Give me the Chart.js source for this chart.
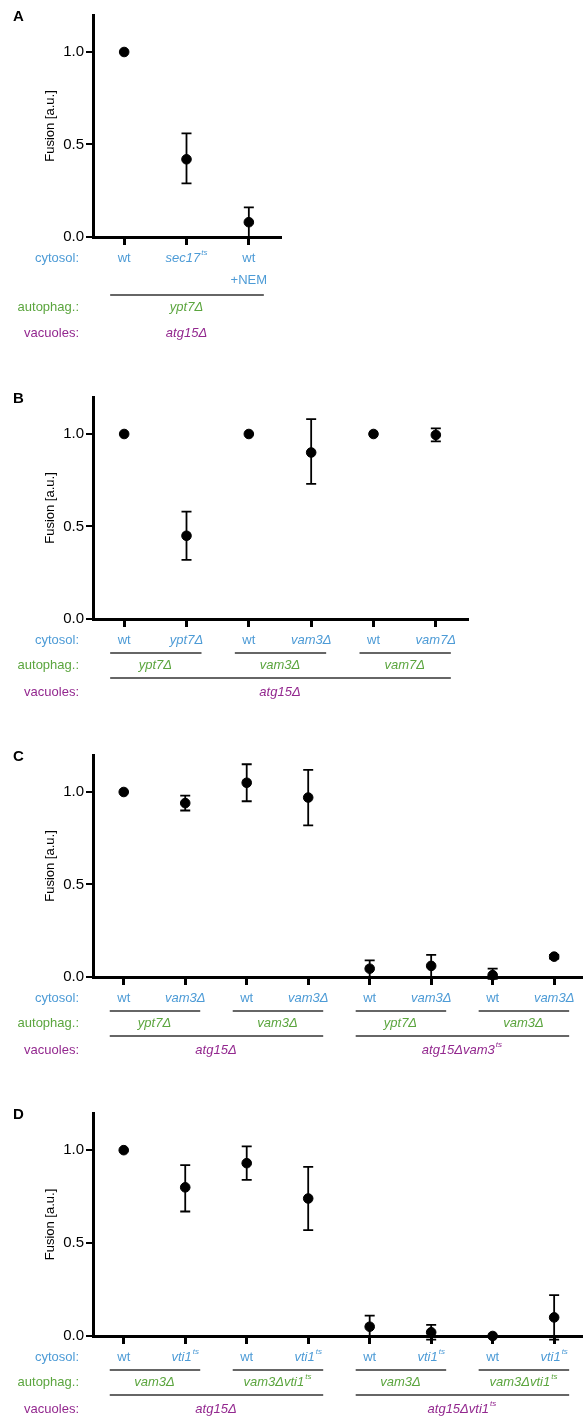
<!DOCTYPE html>
<html>
<head>
<meta charset="utf-8">
<script src="https://cdn.jsdelivr.net/npm/chart.js@4.4.0/dist/chart.umd.min.js"></script>
<style>
  body { margin: 0; background: #fff; }
  #page { position: relative; width: 587px; height: 1418px; }
  canvas { position: absolute; left: 0; }
</style>
</head>
<body>
<div id="page">
  <canvas id="chartA" width="587" height="350" style="top:0px"></canvas>
  <canvas id="chartB" width="587" height="355" style="top:350px"></canvas>
  <canvas id="chartC" width="587" height="357" style="top:705px"></canvas>
  <canvas id="chartD" width="587" height="356" style="top:1062px"></canvas>
</div>
<script>
// tick values on the Fusion axis
const yTicks = [0, 0.5, 1.0];

// Panel A
const cytosolA = ['wt', 'sec17^ts', 'wt\n+NEM'];
const fusionA = [1.0, 0.42, 0.08];
const lowA = [null, 0.29, 0.0];
const highA = [null, 0.56, 0.16];
const autophagA = ['ypt7Δ'];
const autophagSpanA = [[0, 2]];
const vacuolesA = ['atg15Δ'];
const vacuolesSpanA = [[0, 2]];

// Panel B
const cytosolB = ['wt', 'ypt7Δ', 'wt', 'vam3Δ', 'wt', 'vam7Δ'];
const fusionB = [1.0, 0.45, 1.0, 0.90, 1.0, 0.995];
const lowB = [null, 0.32, null, 0.73, null, 0.96];
const highB = [null, 0.58, null, 1.08, null, 1.03];
const autophagB = ['ypt7Δ', 'vam3Δ', 'vam7Δ'];
const autophagSpanB = [[0, 1], [2, 3], [4, 5]];
const vacuolesB = ['atg15Δ'];
const vacuolesSpanB = [[0, 5]];

// Panel C
const cytosolC = ['wt', 'vam3Δ', 'wt', 'vam3Δ', 'wt', 'vam3Δ', 'wt', 'vam3Δ'];
const fusionC = [1.0, 0.94, 1.05, 0.97, 0.045, 0.06, 0.01, 0.11];
const lowC = [null, 0.90, 0.95, 0.82, 0.0, 0.0, -0.01, 0.10];
const highC = [null, 0.98, 1.15, 1.12, 0.09, 0.12, 0.045, 0.12];
const autophagC = ['ypt7Δ', 'vam3Δ', 'ypt7Δ', 'vam3Δ'];
const autophagSpanC = [[0, 1], [2, 3], [4, 5], [6, 7]];
const vacuolesC = ['atg15Δ', 'atg15Δvam3^ts'];
const vacuolesSpanC = [[0, 3], [4, 7]];

// Panel D
const cytosolD = ['wt', 'vti1^ts', 'wt', 'vti1^ts', 'wt', 'vti1^ts', 'wt', 'vti1^ts'];
const fusionD = [1.0, 0.80, 0.93, 0.74, 0.05, 0.02, 0.0, 0.10];
const lowD = [null, 0.67, 0.84, 0.57, 0.0, -0.02, null, -0.02];
const highD = [null, 0.92, 1.02, 0.91, 0.11, 0.06, null, 0.22];
const autophagD = ['vam3Δ', 'vam3Δvti1^ts', 'vam3Δ', 'vam3Δvti1^ts'];
const autophagSpanD = [[0, 1], [2, 3], [4, 5], [6, 7]];
const vacuolesD = ['atg15Δ', 'atg15Δvti1^ts'];
const vacuolesSpanD = [[0, 3], [4, 7]];

const FONT = '"Liberation Sans", Arial, sans-serif';
const BLUE = '#4d9bd6';
const GREEN = '#5ba53e';
const PURPLE = '#93288f';

// text with optional italic and superscript (after '^')
function drawRich(ctx, text, cx, cy, color, italic) {
    const parts = text.split('^');
    const main = parts[0], sup = parts[1] || '';
    const style = italic ? 'italic ' : '';
    ctx.font = style + '13px ' + FONT;
    const w1 = ctx.measureText(main).width;
    ctx.font = style + '8px ' + FONT;
    const w2 = sup ? ctx.measureText(sup).width + 1 : 0;
    let x0 = cx - (w1 + w2) / 2;
    ctx.fillStyle = color;
    ctx.textAlign = 'left';
    ctx.textBaseline = 'middle';
    ctx.font = style + '13px ' + FONT;
    ctx.fillText(main, x0, cy);
    if (sup) {
        ctx.font = style + '8px ' + FONT;
        ctx.fillText(sup, x0 + w1 + 1, cy - 5);
    }
}

function isItalic(label) {
    return !(label === 'wt' || label.startsWith('+'));
}

const errorBars = {
    id: 'errorBars',
    beforeDatasetsDraw(chart, args, opts) {
        const { ctx, scales: { x, y } } = chart;
        ctx.save();
        ctx.strokeStyle = '#000';
        ctx.lineWidth = 1.8;
        opts.low.forEach((lo, i) => {
            if (lo === null) return;
            const px = x.getPixelForValue(i);
            const y1 = y.getPixelForValue(lo);
            const y2 = y.getPixelForValue(opts.high[i]);
            ctx.beginPath();
            ctx.moveTo(px, y1); ctx.lineTo(px, y2);
            ctx.moveTo(px - 5, y1); ctx.lineTo(px + 5, y1);
            ctx.moveTo(px - 5, y2); ctx.lineTo(px + 5, y2);
            ctx.stroke();
        });
        ctx.restore();
    }
};

const rowLabels = {
    id: 'rowLabels',
    afterDraw(chart, args, opts) {
        const { ctx, chartArea, scales: { x } } = chart;
        const base = chartArea.bottom;
        const r = opts.rows;
        ctx.save();

        // panel letter
        ctx.fillStyle = '#000';
        ctx.font = 'bold 15px ' + FONT;
        ctx.textAlign = 'left';
        ctx.textBaseline = 'middle';
        ctx.fillText(opts.letter, 13, chartArea.top + 2);

        // row titles
        ctx.font = '13px ' + FONT;
        ctx.textAlign = 'right';
        ctx.fillStyle = BLUE;
        ctx.fillText('cytosol:', 79, base + r.cytosol);
        ctx.fillStyle = GREEN;
        ctx.fillText('autophag.:', 79, base + r.autophag);
        ctx.fillStyle = PURPLE;
        ctx.fillText('vacuoles:', 79, base + r.vacuoles);

        // cytosol labels
        opts.cytosol.forEach((lab, i) => {
            const px = x.getPixelForValue(i);
            lab.split('\n').forEach((line, k) => {
                drawRich(ctx, line, px, base + r.cytosol + k * 22, BLUE, isItalic(line));
            });
        });

        // group lines + labels
        function groups(labels, spans, lineY, textY, color) {
            labels.forEach((lab, g) => {
                const a = x.getPixelForValue(spans[g][0]);
                const b = x.getPixelForValue(spans[g][1]);
                if (lineY !== null) {
                    ctx.strokeStyle = '#333';
                    ctx.lineWidth = 1.6;
                    ctx.beginPath();
                    ctx.moveTo(a - 14, base + lineY);
                    ctx.lineTo(b + 15, base + lineY);
                    ctx.stroke();
                }
                drawRich(ctx, lab, (a + b) / 2, base + textY, color, true);
            });
        }
        groups(opts.autophag, opts.autophagSpan, r.line1, r.autophag, GREEN);
        groups(opts.vacuoles, opts.vacuolesSpan, r.line2, r.vacuoles, PURPLE);
        ctx.restore();
    }
};

function makePanel(id, p) {
    const canvas = document.getElementById(id);
    new Chart(canvas, {
        type: 'scatter',
        data: {
            datasets: [{
                data: p.values.map((v, i) => ({ x: i, y: v })),
                backgroundColor: '#000',
                borderColor: '#000',
                pointRadius: 4.8,
                pointHoverRadius: 4.8,
                clip: false
            }]
        },
        options: {
            responsive: false,
            animation: false,
            events: [],
            layout: { padding: { left: 39, top: p.top, right: p.right, bottom: 0 } },
            plugins: {
                legend: { display: false },
                tooltip: { enabled: false },
                errorBars: { low: p.low, high: p.high },
                rowLabels: p
            },
            scales: {
                x: {
                    type: 'linear',
                    min: -0.5,
                    max: p.xMax,
                    afterBuildTicks: s => { s.ticks = p.values.map((_, i) => ({ value: i })); },
                    afterFit: s => { s.height = canvas.height - p.bottom; },
                    ticks: { display: false },
                    grid: { drawOnChartArea: false, drawTicks: true, tickLength: 8, lineWidth: 3, color: '#000' },
                    border: { display: true, width: 3, color: '#000' }
                },
                y: {
                    min: 0,
                    max: 1.2,
                    afterBuildTicks: s => { s.ticks = yTicks.map(v => ({ value: v })); },
                    afterFit: s => { s.width = 54; },
                    ticks: {
                        callback: v => v.toFixed(1),
                        font: { size: 15, family: FONT },
                        color: '#000',
                        padding: 2
                    },
                    grid: { drawOnChartArea: false, tickLength: 7, lineWidth: 2, color: '#000' },
                    border: { width: 3, color: '#000' },
                    title: { display: true, text: 'Fusion [a.u.]', font: { size: 13, family: FONT }, color: '#000' }
                }
            }
        },
        plugins: [errorBars, rowLabels]
    });
}

const rowsStd = { cytosol: 21, line1: 34, autophag: 46, line2: 59, vacuoles: 73 };

makePanel('chartA', {
    letter: 'A', top: 15, bottom: 237, right: 307, xMax: 2.5,
    values: fusionA, low: lowA, high: highA, cytosol: cytosolA,
    autophag: autophagA, autophagSpan: autophagSpanA,
    vacuoles: vacuolesA, vacuolesSpan: vacuolesSpanA,
    rows: { cytosol: 21, line1: 58, autophag: 70, line2: null, vacuoles: 96 }
});
makePanel('chartB', {
    letter: 'B', top: 47, bottom: 269, right: 120, xMax: 5.5,
    values: fusionB, low: lowB, high: highB, cytosol: cytosolB,
    autophag: autophagB, autophagSpan: autophagSpanB,
    vacuoles: vacuolesB, vacuolesSpan: vacuolesSpanB,
    rows: rowsStd
});
makePanel('chartC', {
    letter: 'C', top: 50, bottom: 272, right: 0, xMax: 7.44,
    values: fusionC, low: lowC, high: highC, cytosol: cytosolC,
    autophag: autophagC, autophagSpan: autophagSpanC,
    vacuoles: vacuolesC, vacuolesSpan: vacuolesSpanC,
    rows: rowsStd
});
makePanel('chartD', {
    letter: 'D', top: 51, bottom: 274, right: 0, xMax: 7.44,
    values: fusionD, low: lowD, high: highD, cytosol: cytosolD,
    autophag: autophagD, autophagSpan: autophagSpanD,
    vacuoles: vacuolesD, vacuolesSpan: vacuolesSpanD,
    rows: rowsStd
});
</script>
</body>
</html>
